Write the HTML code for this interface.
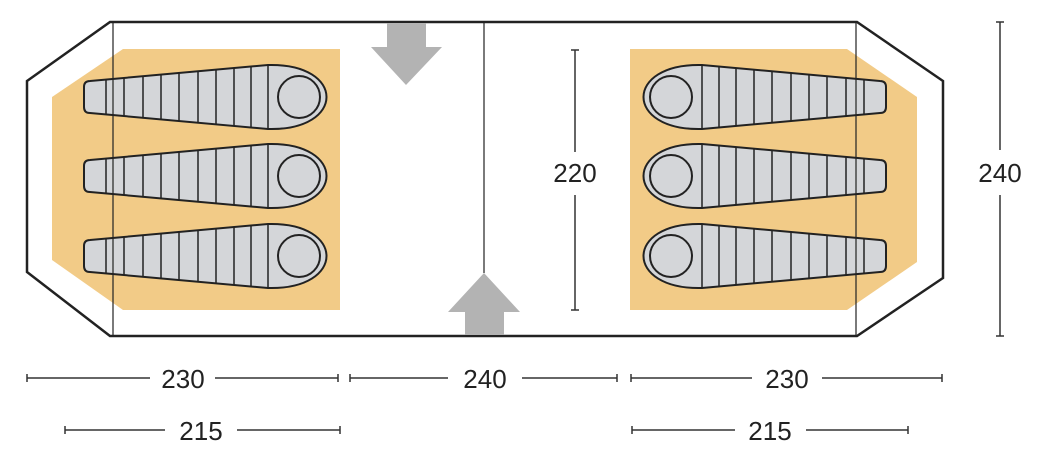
<!DOCTYPE html>
<html><head><meta charset="utf-8"><style>
html,body{margin:0;padding:0;background:#fff;width:1050px;height:460px;overflow:hidden}
text{font-family:"Liberation Sans",sans-serif;fill:#222}
</style></head><body>
<svg width="1050" height="460" viewBox="0 0 1050 460" xmlns="http://www.w3.org/2000/svg">
<defs>
<clipPath id="c1"><path id="bp1" d="M90,81 L268,65 C346,63 346,131 268,129 L90,113 Q84,113 84,107 L84,87 Q84,81 90,81 Z"/></clipPath>
<clipPath id="c2"><path d="M90,160 L268,144 C346,142 346,210 268,208 L90,192 Q84,192 84,186 L84,166 Q84,160 90,160 Z"/></clipPath>
<clipPath id="c3"><path d="M90,240 L268,224 C346,222 346,290 268,288 L90,272 Q84,272 84,266 L84,246 Q84,240 90,240 Z"/></clipPath>
<g id="bags">
<g stroke="#222" stroke-width="2" fill="#d4d6d9">
<path d="M90,81 L268,65 C346,63 346,131 268,129 L90,113 Q84,113 84,107 L84,87 Q84,81 90,81 Z"/>
<path d="M90,160 L268,144 C346,142 346,210 268,208 L90,192 Q84,192 84,186 L84,166 Q84,160 90,160 Z"/>
<path d="M90,240 L268,224 C346,222 346,290 268,288 L90,272 Q84,272 84,266 L84,246 Q84,240 90,240 Z"/>
<circle cx="299" cy="97" r="21"/>
<circle cx="299" cy="176" r="21"/>
<circle cx="299" cy="256" r="21"/>
</g>
<g stroke="#222" stroke-width="1.5">
<path id="segs" clip-path="url(#c1)" d="M106,50V140M124,50V140M143,50V140M161,50V140M179,50V140M198,50V140M216,50V140M234,50V140M251,50V140M268,50V140"/>
<path clip-path="url(#c2)" d="M106,130V220M124,130V220M143,130V220M161,130V220M179,130V220M198,130V220M216,130V220M234,130V220M251,130V220M268,130V220"/>
<path clip-path="url(#c3)" d="M106,210V300M124,210V300M143,210V300M161,210V300M179,210V300M198,210V300M216,210V300M234,210V300M251,210V300M268,210V300"/>
</g>
</g>
</defs>
<!-- orange floors -->
<polygon points="123,49 340,49 340,310 123,310 52,260 52,97" fill="#f2cb87"/>
<polygon points="630,49 847,49 917,97 917,262 847,310 630,310" fill="#f2cb87"/>
<!-- bags -->
<use href="#bags"/>
<use href="#bags" transform="translate(970,0) scale(-1,1)"/>
<!-- outline -->
<polygon points="110,22 857,22 943,81 943,278 857,336 110,336 27,272 27,81" fill="none" stroke="#222" stroke-width="2.5"/>
<line x1="113" y1="22" x2="113" y2="336" stroke="#222" stroke-width="1.2"/>
<line x1="856" y1="22" x2="856" y2="336" stroke="#222" stroke-width="1.2"/>
<line x1="484" y1="22" x2="484" y2="273" stroke="#222" stroke-width="1.2"/>
<!-- arrows -->
<polygon points="387,23 426,23 426,47 442,47 406,85 371,47 387,47" fill="#b3b3b3"/>
<polygon points="465,335 504,335 504,312 520,312 484,273 448,312 465,312" fill="#b3b3b3"/>
<!-- 220 dim -->
<g stroke="#333" stroke-width="1.5">
<line x1="575" y1="50" x2="575" y2="152"/><line x1="575" y1="195" x2="575" y2="310"/>
<line x1="571" y1="50" x2="579" y2="50"/><line x1="571" y1="310" x2="579" y2="310"/>
<line x1="1000" y1="22" x2="1000" y2="150"/><line x1="1000" y1="195" x2="1000" y2="336"/>
<line x1="996" y1="22" x2="1004" y2="22"/><line x1="996" y1="336" x2="1004" y2="336"/>
<!-- bottom dims -->
<line x1="27" y1="378" x2="150" y2="378"/><line x1="215" y1="378" x2="338" y2="378"/>
<line x1="27" y1="374" x2="27" y2="382"/><line x1="338" y1="374" x2="338" y2="382"/>
<line x1="350" y1="378" x2="448" y2="378"/><line x1="522" y1="378" x2="617" y2="378"/>
<line x1="350" y1="374" x2="350" y2="382"/><line x1="617" y1="374" x2="617" y2="382"/>
<line x1="631" y1="378" x2="752" y2="378"/><line x1="822" y1="378" x2="942" y2="378"/>
<line x1="631" y1="374" x2="631" y2="382"/><line x1="942" y1="374" x2="942" y2="382"/>
<line x1="65" y1="430" x2="165" y2="430"/><line x1="237" y1="430" x2="340" y2="430"/>
<line x1="65" y1="426" x2="65" y2="434"/><line x1="340" y1="426" x2="340" y2="434"/>
<line x1="632" y1="430" x2="735" y2="430"/><line x1="806" y1="430" x2="908" y2="430"/>
<line x1="632" y1="426" x2="632" y2="434"/><line x1="908" y1="426" x2="908" y2="434"/>
</g>
<g font-size="26" text-anchor="middle">
<text x="575" y="182">220</text>
<text x="1000" y="182">240</text>
<text x="183" y="388">230</text>
<text x="485" y="388">240</text>
<text x="787" y="388">230</text>
<text x="201" y="440">215</text>
<text x="770" y="440">215</text>
</g>
</svg>
</body></html>
